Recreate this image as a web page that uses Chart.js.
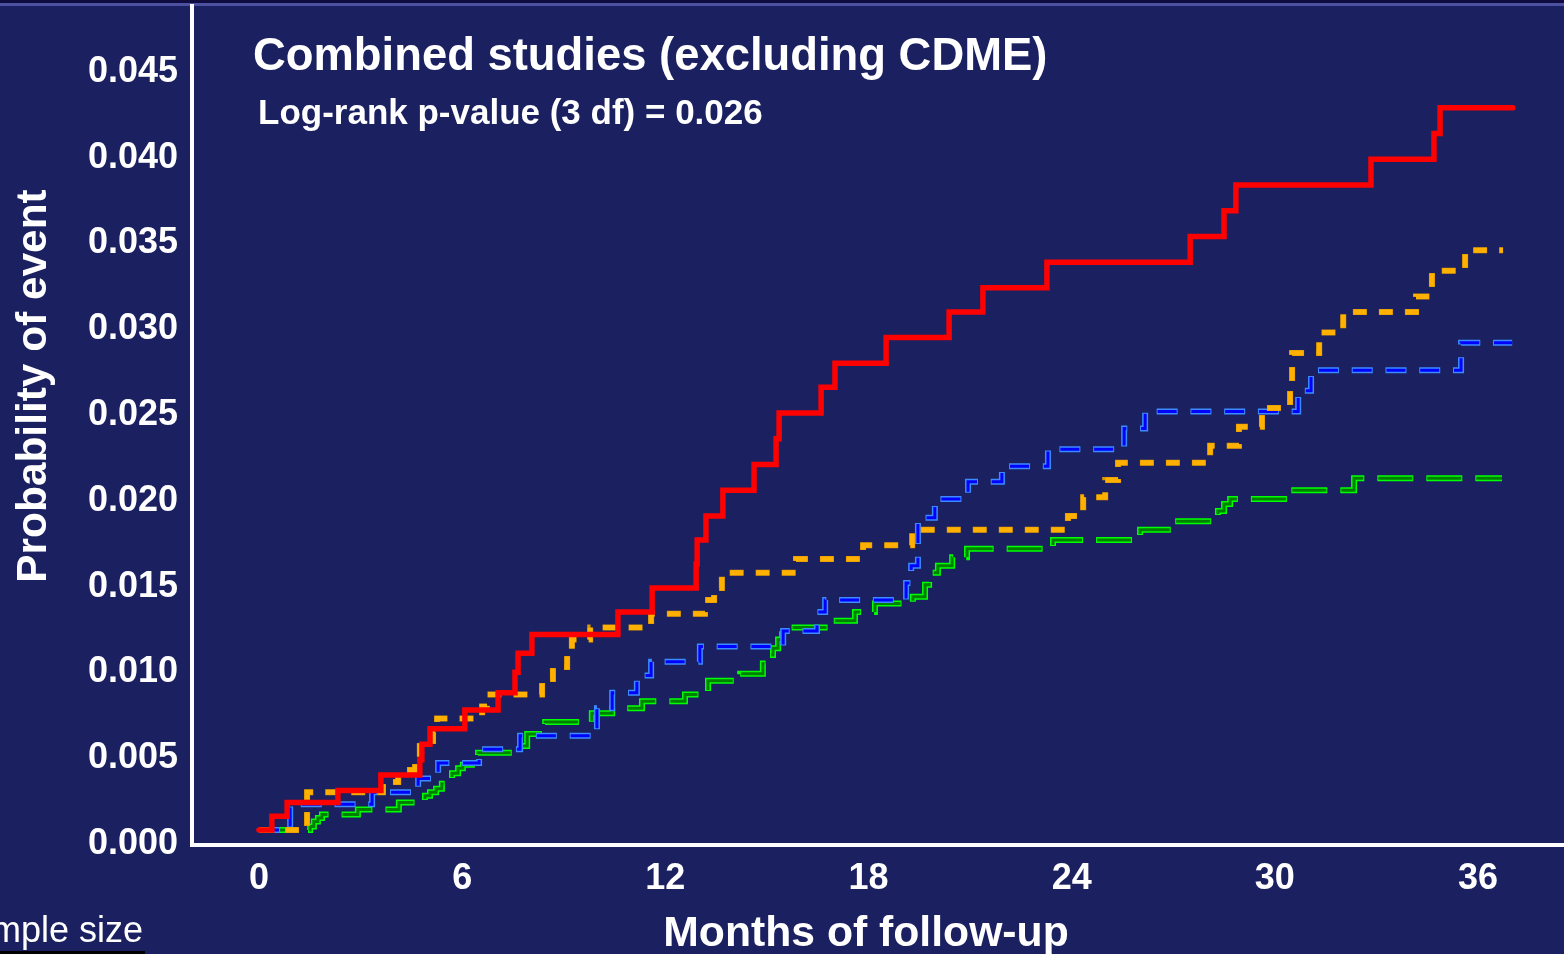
<!DOCTYPE html>
<html>
<head>
<meta charset="utf-8">
<script src="https://cdn.jsdelivr.net/npm/chart.js@4.4.1/dist/chart.umd.min.js"></script>
<style>
  html, body { margin: 0; padding: 0; background: #1a2060; overflow: hidden; }
  canvas { display: block; }
</style>
</head>
<body>
<canvas id="km" width="1564" height="954"></canvas>
<script>
// Axis ticks
const yTicks = [0, 0.005, 0.010, 0.015, 0.020, 0.025, 0.030, 0.035, 0.040, 0.045];
const xTicks = [0, 6, 12, 18, 24, 30, 36];

// Cumulative probability of event (step points: month of step, new value)
const redMonths = [0, 0.38, 0.83, 2.33, 3.60, 4.75, 4.81, 5.05, 6.08, 7.06, 7.56, 7.65, 8.06, 10.60, 11.61, 12.91, 12.94, 13.20, 13.70, 14.62, 15.27, 15.36, 16.60, 17.01, 18.52, 20.38, 21.38, 23.27, 27.50, 28.50, 28.85, 32.84, 34.70, 34.88, 37.03];
const redValues = [0.0007, 0.0015, 0.0023, 0.0030, 0.0039, 0.0048, 0.0057, 0.0066, 0.0077, 0.0087, 0.0099, 0.0110, 0.0121, 0.0134, 0.0148, 0.0162, 0.0176, 0.0190, 0.0205, 0.0220, 0.0235, 0.0250, 0.0265, 0.0279, 0.0294, 0.0309, 0.0323, 0.0338, 0.0353, 0.0368, 0.0383, 0.0398, 0.0413, 0.0428, 0.0428];

const orangeMonths = [0, 1.42, 3.66, 4.11, 4.61, 4.75, 5.14, 5.26, 6.59, 6.73, 8.36, 8.68, 9.10, 9.24, 9.78, 11.58, 13.17, 13.44, 13.67, 15.86, 17.84, 19.29, 23.89, 24.34, 24.99, 25.37, 28.09, 28.94, 29.62, 30.45, 30.51, 31.31, 32.02, 34.17, 34.64, 35.62, 36.74];
const orangeValues = [0.0007, 0.0029, 0.0035, 0.0042, 0.0049, 0.0056, 0.0064, 0.0072, 0.0079, 0.0086, 0.0095, 0.0102, 0.0109, 0.0118, 0.0125, 0.0133, 0.0141, 0.0148, 0.0157, 0.0165, 0.0173, 0.0182, 0.0190, 0.0201, 0.0211, 0.0221, 0.0231, 0.0242, 0.0253, 0.0263, 0.0285, 0.0297, 0.0309, 0.0318, 0.0333, 0.0345, 0.0345];

const blueMonths = [0, 0.92, 3.34, 4.70, 5.29, 6.50, 7.71, 9.98, 10.43, 11.16, 11.58, 13.02, 15.48, 16.48, 16.72, 19.11, 19.26, 19.46, 19.96, 20.94, 21.94, 23.30, 25.55, 26.17, 30.69, 31.07, 35.50, 37.01];
const blueValues = [0.0007, 0.0022, 0.0029, 0.0037, 0.0046, 0.0054, 0.0062, 0.0078, 0.0087, 0.0097, 0.0105, 0.0114, 0.0123, 0.0134, 0.0141, 0.0151, 0.0161, 0.0189, 0.0200, 0.0210, 0.0219, 0.0229, 0.0241, 0.0251, 0.0263, 0.0275, 0.0291, 0.0291];

const greenMonths = [0, 1.51, 1.62, 1.74, 1.86, 2.92, 4.13, 4.75, 4.90, 5.05, 5.23, 5.40, 5.55, 5.70, 5.88, 6.02, 6.47, 7.50, 7.92, 8.45, 9.83, 10.43, 11.31, 12.58, 13.26, 14.21, 14.88, 15.03, 15.18, 15.33, 15.45, 16.81, 17.60, 18.19, 19.31, 19.67, 19.79, 20.05, 20.47, 20.91, 23.45, 26.02, 26.96, 28.32, 28.50, 28.68, 30.42, 32.34, 36.71];
const greenValues = [0.0007, 0.0009, 0.0012, 0.0014, 0.0016, 0.0019, 0.0023, 0.0024, 0.0027, 0.0029, 0.0031, 0.0034, 0.0037, 0.0040, 0.0043, 0.0045, 0.0052, 0.0056, 0.0063, 0.0070, 0.0075, 0.0078, 0.0082, 0.0086, 0.0094, 0.0098, 0.0104, 0.0109, 0.0113, 0.0118, 0.0125, 0.0129, 0.0134, 0.0139, 0.0143, 0.0150, 0.0157, 0.0161, 0.0166, 0.0171, 0.0176, 0.0182, 0.0187, 0.0193, 0.0197, 0.0200, 0.0205, 0.0212, 0.0212];

const FONT = "'Liberation Sans', Arial, Helvetica, sans-serif";

const pts = (xs, ys) => xs.map((x, i) => ({ x: x, y: ys[i] }));

function stepLine(data, color, width, dash, dashOffset, cap) {
  return {
    data: data,
    borderColor: color,
    borderWidth: width,
    borderDash: dash || [],
    borderDashOffset: dashOffset || 0,
    borderCapStyle: cap || 'butt',
    borderJoinStyle: 'miter',
    stepped: 'before',
    pointRadius: 0,
    pointHoverRadius: 0,
    fill: false,
    tension: 0
  };
}

const red = pts(redMonths, redValues);
const orange = pts(orangeMonths, orangeValues);
const blue = pts(blueMonths, blueValues);
const green = pts(greenMonths, greenValues);

// Earlier datasets are painted on top
const datasets = [
  stepLine(red, '#ff0000', 5.5, null, 0, 'round'),
  stepLine(orange, '#ffb000', 5, [13, 13], -0.5),
  stepLine(orange, '#d89500', 6, [14, 12], 0),
  stepLine(blue, '#0000ff', 3, [19, 14.75], -1),
  stepLine(blue, '#3c8cff', 6, [21, 12.75], 0),
  stepLine(green, '#008000', 3, [34, 15], -1),
  stepLine(green, '#00ff00', 6, [36, 13], 0)
];

const decorations = {
  id: 'decorations',
  beforeDraw(chart) {
    const ctx = chart.ctx;
    ctx.save();
    ctx.fillStyle = '#1a2060';
    ctx.fillRect(0, 0, chart.width, chart.height);
    ctx.fillStyle = '#100c40';
    ctx.fillRect(0, 0, chart.width, 3);
    ctx.fillStyle = '#4c50a0';
    ctx.fillRect(0, 3, chart.width, 3);
    ctx.restore();
  },
  afterDraw(chart) {
    const ctx = chart.ctx;
    ctx.save();
    ctx.fillStyle = '#ffffff';
    ctx.textAlign = 'left';
    ctx.textBaseline = 'alphabetic';
    ctx.font = 'bold 45.4px ' + FONT;
    ctx.fillText('Combined studies (excluding CDME)', 253, 70);
    ctx.font = 'bold 35px ' + FONT;
    ctx.fillText('Log-rank p-value (3 df) = 0.026', 258, 124);

    ctx.textAlign = 'center';
    ctx.font = 'bold 42.7px ' + FONT;
    ctx.fillText('Months of follow-up', 866, 946);

    ctx.save();
    ctx.translate(46, 386);
    ctx.rotate(-Math.PI / 2);
    ctx.font = 'bold 42.4px ' + FONT;
    ctx.fillText('Probability of event', 0, 0);
    ctx.restore();

    ctx.textAlign = 'right';
    ctx.font = '36px ' + FONT;
    ctx.fillText('Sample size', 143, 942);
    ctx.fillStyle = '#000000';
    ctx.fillRect(0, 951, 145, 3);
    ctx.restore();
  }
};

new Chart(document.getElementById('km'), {
  type: 'line',
  data: { datasets: datasets },
  plugins: [decorations],
  options: {
    responsive: false,
    devicePixelRatio: 1,
    animation: false,
    layout: { padding: { top: 6, left: 0, right: 0, bottom: 0 } },
    plugins: { legend: { display: false }, tooltip: { enabled: false } },
    scales: {
      x: {
        type: 'linear',
        min: -1.9787,
        max: 38.54,
        afterBuildTicks: s => { s.ticks = xTicks.map(v => ({ value: v })); },
        afterFit: s => { s.height = 109; s.paddingLeft = 0; s.paddingRight = 0; },
        ticks: {
          color: '#ffffff',
          font: { family: FONT, weight: 'bold', size: 36 },
          padding: 12,
          maxRotation: 0,
          autoSkip: false,
          callback: v => String(v)
        },
        grid: { display: false, drawTicks: false },
        border: { display: true, color: '#ffffff', width: 4 }
      },
      y: {
        type: 'linear',
        min: -0.000175,
        max: 0.04873,
        afterBuildTicks: s => { s.ticks = yTicks.map(v => ({ value: v })); },
        afterFit: s => { s.width = 192; s.paddingTop = 0; s.paddingBottom = 0; },
        ticks: {
          color: '#ffffff',
          font: { family: FONT, weight: 'bold', size: 36 },
          padding: 14,
          labelOffset: 2,
          autoSkip: false,
          callback: v => v.toFixed(3)
        },
        grid: { display: false, drawTicks: false },
        border: { display: true, color: '#ffffff', width: 4 }
      }
    }
  }
});
</script>
</body>
</html>
